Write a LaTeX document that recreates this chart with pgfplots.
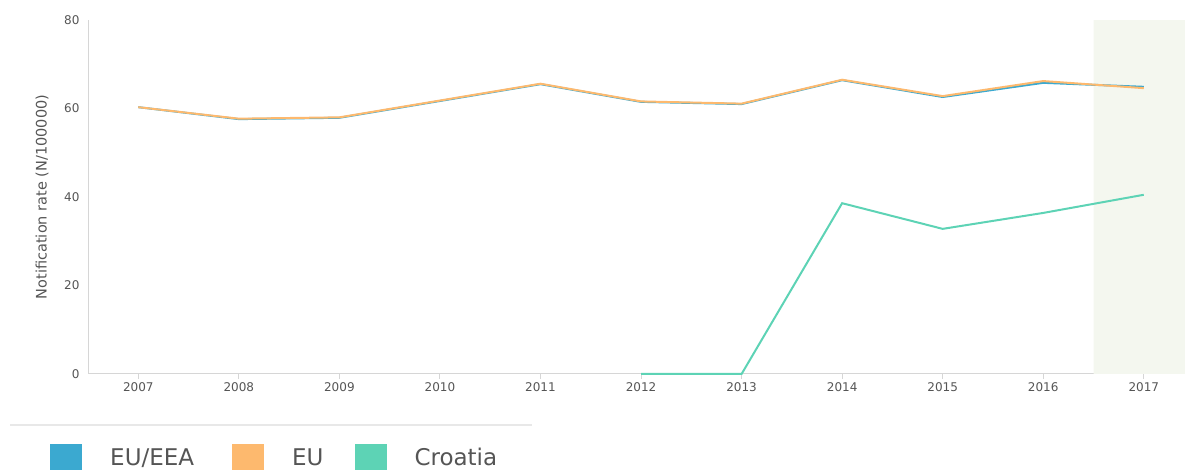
\documentclass[border=0pt]{standalone}
\usepackage{pgfplots}
\pgfplotsset{compat=1.18}
\usepackage{fontspec}
\setmainfont{DejaVu Sans}
\definecolor{eueea}{HTML}{3BA9D0}
\definecolor{eu}{HTML}{FDB96E}
\definecolor{croatia}{HTML}{5DD3B5}
\definecolor{shade}{HTML}{F4F7EF}
\definecolor{axisgray}{HTML}{D6D6D6}
\definecolor{textgray}{HTML}{555555}
\definecolor{divider}{HTML}{E8E8E8}
\begin{document}
\begin{tikzpicture}[x=1pt,y=1pt]
\path[use as bounding box] (0,0) rectangle (1185,470);
\draw[divider, line width=1.2pt] (10,45) -- (532,45);
\begin{axis}[
  at={(88pt,96pt)}, anchor=south west,
  scale only axis, width=1097pt, height=354pt,
  xmin=2006.5, xmax=2017.41, ymin=0, ymax=80,
  clip=false,
  axis x line=bottom, axis y line=left,
  axis line style={-, axisgray, line width=1pt},
  xtick={2007,2008,...,2017},
  ytick={0,20,...,80},
  xticklabel style={/pgf/number format/1000 sep={}},
  x tick style={axisgray, line width=1pt},
  y tick style={draw=none},
  major tick length=5pt,
  tick align=outside,
  tick label style={font=\fontsize{12}{14}\selectfont, text=textgray},
  /pgf/number format/assume math mode=true,
  ylabel={Notification rate (N/100000)},
  every axis y label/.style={at={(axis description cs:-0.0419,0.5)}, rotate=90, anchor=center,
    font=\fontsize{14.5}{17}\selectfont, text=textgray},
  legend columns=3,
  legend style={at={(axis description cs:-0.0346,-0.237)}, anchor=west,
    draw=none, fill=none, inner sep=0pt,
    nodes={inner sep=0pt, text=textgray},
    font=\fontsize{23}{27}\selectfont,
    /tikz/every odd column/.append style={column sep=28pt},
    /tikz/column 2/.append style={column sep=38pt},
    /tikz/column 4/.append style={column sep=31pt}},
]
\addplot[fill=shade, draw=none, forget plot] coordinates {(2016.5,0) (2016.5,80) (2017.41,80) (2017.41,0)} \closedcycle;
\addplot[eueea, line width=2pt,
  legend image code/.code={\fill[eueea] (0pt,-13pt) rectangle (30pt,13pt);}] coordinates {
 (2007,60.3) (2008,57.6) (2009,57.9) (2010,61.7) (2011,65.5) (2012,61.5)
 (2013,61.0) (2014,66.4) (2015,62.6) (2016,65.8) (2017,64.9)};
\addplot[eu, line width=2pt,
  legend image code/.code={\fill[eu] (0pt,-13pt) rectangle (30pt,13pt);}] coordinates {
 (2007,60.3) (2008,57.7) (2009,58.0) (2010,61.8) (2011,65.6) (2012,61.6)
 (2013,61.1) (2014,66.5) (2015,62.8) (2016,66.2) (2017,64.6)};
\addplot[croatia, line width=2pt,
  legend image code/.code={\fill[croatia] (0pt,-13pt) rectangle (30pt,13pt);}] coordinates {
 (2012,0) (2013,0) (2014,38.6) (2015,32.8) (2016,36.4) (2017,40.5)};
\legend{EU/EEA, EU, Croatia}
\end{axis}
\end{tikzpicture}
\end{document}
